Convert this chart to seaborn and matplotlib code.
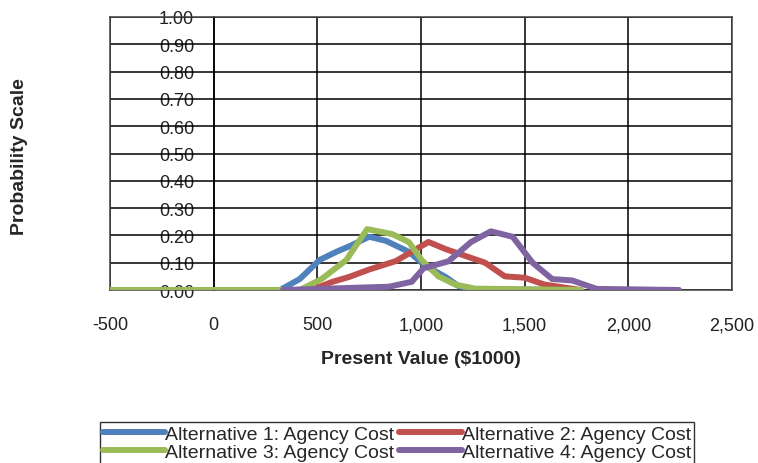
import matplotlib
matplotlib.use("Agg")
import matplotlib.pyplot as plt
import matplotlib.ticker as mticker
import numpy as np
import pandas as pd
import seaborn as sns

# Present value ($1000) and probability for each alternative's agency cost
alt1_x = [-500, 320, 415, 511, 592, 654, 750, 831, 941, 1022, 1118, 1180, 1260, 1770]
alt1_y = [0.0, 0.0, 0.04, 0.11, 0.14, 0.16, 0.195, 0.18, 0.14, 0.088, 0.048, 0.015, 0.003, 0.0]

alt2_x = [-500, 470, 573, 654, 750, 879, 1036, 1118, 1213, 1309, 1404, 1500, 1595, 1770]
alt2_y = [0.0, 0.0, 0.03, 0.048, 0.075, 0.106, 0.176, 0.15, 0.125, 0.10, 0.05, 0.045, 0.02, 0.0]

alt3_x = [-500, 415, 520, 640, 740, 860, 941, 1003, 1084, 1165, 1261, 1770]
alt3_y = [0.0, 0.0, 0.04, 0.11, 0.223, 0.205, 0.176, 0.11, 0.05, 0.02, 0.005, 0.0]

alt4_x = [334, 845, 955, 1013, 1132, 1242, 1337, 1442, 1538, 1633, 1729, 1848, 2245]
alt4_y = [0.0, 0.012, 0.03, 0.08, 0.105, 0.176, 0.215, 0.195, 0.10, 0.04, 0.035, 0.004, 0.0]

series_names = [
    "Alternative 1: Agency Cost",
    "Alternative 2: Agency Cost",
    "Alternative 3: Agency Cost",
    "Alternative 4: Agency Cost",
]
series_colors = ["#4F81BD", "#C0504D", "#9BBB59", "#8064A2"]

x_ticks = [-500, 0, 500, 1000, 1500, 2000, 2500]
y_ticks = [0.0, 0.1, 0.2, 0.3, 0.4, 0.5, 0.6, 0.7, 0.8, 0.9, 1.0]

frames = []
for name, xs, ys in zip(series_names,
                        [alt1_x, alt2_x, alt3_x, alt4_x],
                        [alt1_y, alt2_y, alt3_y, alt4_y]):
    frames.append(pd.DataFrame({"pv": xs, "prob": ys, "series": name}))
df = pd.concat(frames, ignore_index=True)

sns.set_theme(style="white")
plt.rcParams["font.family"] = ["Liberation Sans", "DejaVu Sans"]

fig = plt.figure(figsize=(7.58, 4.64), dpi=100)
ax = fig.add_axes([110 / 758, 1 - 291 / 464, (732 - 110) / 758, (291 - 18) / 464])

sns.lineplot(data=df, x="pv", y="prob", hue="series", hue_order=series_names,
             palette=series_colors, sort=False, estimator=None, linewidth=4.3,
             ax=ax, legend=True, zorder=3)
for ln in ax.get_lines():
    ln.set_solid_joinstyle("round")
    ln.set_solid_capstyle("round")

ax.set_xlim(-500, 2500)
ax.set_ylim(0, 1.0)
ax.set_xticks(x_ticks)
ax.xaxis.set_major_formatter(mticker.FuncFormatter(lambda v, p: f"{int(v):,}"))
ax.set_yticks(y_ticks)
ax.set_yticklabels([])
ax.tick_params(axis="y", length=0)
ax.tick_params(axis="x", length=0, pad=19, labelsize=13, colors="#222222")

ax.grid(True, color="black", linewidth=1.1)
ax.set_axisbelow(True)
for sp in ax.spines.values():
    sp.set_color("#404040")
    sp.set_linewidth(1.1)

# y-axis crossing at x = 0
sec = ax.secondary_yaxis((0 - (-500)) / 3000)
sec.set_yticks(y_ticks)
sec.set_yticklabels([f"{v:.2f}" for v in y_ticks])
sec.tick_params(length=0, pad=14, labelsize=13, colors="#222222")
sec.spines["left"].set_color("black")
sec.spines["left"].set_linewidth(1.1)

ax.set_xlabel("Present Value ($1000)", fontsize=14, fontweight="bold", labelpad=12)
ax.set_ylabel("")
fig.text(20 / 758, 1 - 157 / 464, "Probability Scale", rotation=90, fontsize=14,
         fontweight="bold", ha="center", va="center")

handles, labels = ax.get_legend_handles_labels()
ax.get_legend().remove()
for h in handles:
    h.set_linewidth(4.3)
# two columns filled row by row: 1, 2 / 3, 4
order = [0, 2, 1, 3]
leg = fig.legend([handles[i] for i in order], [labels[i] for i in order],
                 ncol=2, loc="upper center",
                 bbox_to_anchor=(397 / 758, 1 - 423 / 464),
                 fontsize=14, frameon=True, fancybox=False,
                 edgecolor="black", handlelength=3.2, handletextpad=0.0,
                 columnspacing=0.25, labelspacing=0.05, borderpad=0.15,
                 borderaxespad=0)
leg.get_frame().set_linewidth(1.0)

fig.savefig("out.png", dpi=100)
